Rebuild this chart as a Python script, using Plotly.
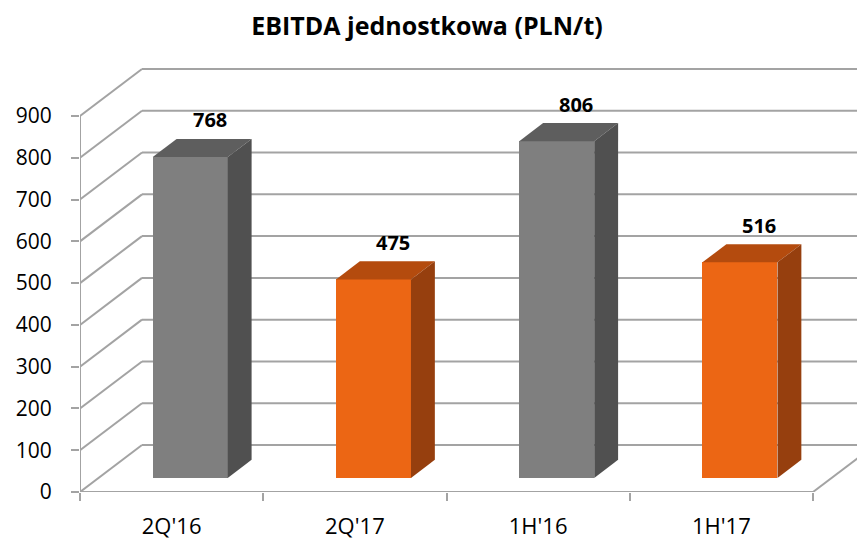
import plotly.graph_objects as go

# ---- data ----
categories = ["2Q'16", "2Q'17", "1H'16", "1H'17"]
values = [768, 475, 806, 516]
series_kind = ["gray", "orange", "gray", "orange"]
y_ticks = [0, 100, 200, 300, 400, 500, 600, 700, 800, 900]
title_text = "EBITDA jednostkowa (PLN/t)"

# ---- style ----
palette = {
    "gray": {"front": "#7F7F7F", "top": "#5E5E5E", "side": "#505050"},
    "orange": {"front": "#EC6614", "top": "#B44B0E", "side": "#963F0E"},
}
GRID = "#A3A3A3"
FONT = "Open Sans"

BODY = 8  # default page margin around the plot div
W, H = 865 - BODY, 540 - BODY
ML, MR, MT, MB = 80 - BODY, 0, 60 - BODY, 48
PX_PER_CAT = 183.25
PX_PER_VAL = 376 / 900.0
DEPTH_PX_X, DEPTH_PX_Y = 62, 47
DX = DEPTH_PX_X / PX_PER_CAT          # full floor depth in category units
DY = DEPTH_PX_Y / PX_PER_VAL          # full floor depth in value units
F0, F1 = 0.30, 0.685                  # bar front / back depth fractions
BAR_W = 75 / PX_PER_CAT

n = len(categories)
x_lo = -0.5
x_hi = x_lo + (W - ML - MR) / PX_PER_CAT
y_hi = (H - MT - MB) / PX_PER_VAL

fig = go.Figure()

# front faces
centers = [i + F0 * DX for i in range(n)]
fig.add_trace(go.Bar(
    x=centers, y=values, base=[F0 * DY] * n, width=BAR_W,
    marker=dict(color=[palette[k]["front"] for k in series_kind], line=dict(width=0)),
    hoverinfo="skip", showlegend=False,
))

# top & side faces
ddx = (F1 - F0) * DX
ddy = (F1 - F0) * DY
for c, v, k in zip(centers, values, series_kind):
    l, r = c - BAR_W / 2, c + BAR_W / 2
    b0 = F0 * DY
    fig.add_trace(go.Scatter(
        x=[l, r, r + ddx, l + ddx, l], y=[b0 + v, b0 + v, b0 + ddy + v, b0 + ddy + v, b0 + v],
        xaxis="x2", mode="lines", fill="toself", fillcolor=palette[k]["top"],
        line=dict(width=0, color=palette[k]["top"]), hoverinfo="skip", showlegend=False))
    fig.add_trace(go.Scatter(
        x=[r, r, r + ddx, r + ddx, r], y=[b0, b0 + v, b0 + ddy + v, b0 + ddy, b0],
        xaxis="x2", mode="lines", fill="toself", fillcolor=palette[k]["side"],
        line=dict(width=0, color=palette[k]["side"]), hoverinfo="skip", showlegend=False))

# gridlines / walls as shapes (below traces)
shapes = []
line_style = dict(color=GRID, width=2)
for v in y_ticks:
    shapes.append(dict(type="line", xref="x", yref="y", x0=x_lo, y0=v, x1=x_lo + DX, y1=v + DY,
                       line=line_style, layer="below"))
    shapes.append(dict(type="line", xref="x", yref="y", x0=x_lo + DX, y0=v + DY, x1=n - 0.5 + DX, y1=v + DY,
                       line=line_style, layer="below"))
shapes.append(dict(type="line", xref="x", yref="y", x0=x_lo, y0=0, x1=x_lo, y1=y_ticks[-1],
                   line=line_style, layer="below"))
shapes.append(dict(type="line", xref="x", yref="y", x0=x_lo, y0=0, x1=n - 0.5, y1=0,
                   line=line_style, layer="below"))
shapes.append(dict(type="line", xref="x", yref="y", x0=n - 0.5, y0=0, x1=n - 0.5 + DX, y1=DY,
                   line=line_style, layer="below"))

# data labels
annotations = []
for c, v in zip(centers, values):
    annotations.append(dict(
        x=c + 0.106, y=F1 * DY + v + 19 / PX_PER_VAL, xref="x", yref="y",
        text=str(v), showarrow=False, xanchor="center", yanchor="middle",
        font=dict(family=FONT, size=20, color="#000000", weight=700)))

fig.update_layout(
    width=W, height=H,
    margin=dict(l=ML, r=MR, t=MT, b=MB, pad=0, autoexpand=False),
    paper_bgcolor="white", plot_bgcolor="white",
    font=dict(family=FONT, color="#000000"),
    title=dict(text=title_text, x=(427 - BODY) / W, xref="container", xanchor="center",
               y=1 - 18 / H, yref="container", yanchor="middle",
               font=dict(family=FONT, size=25, color="#000000", weight=700)),
    xaxis=dict(range=[x_lo, x_hi], tickvals=list(range(n)), ticktext=categories,
               ticks="", showgrid=False, zeroline=False, showline=False,
               tickfont=dict(family=FONT, size=22, color="#000000"),
               ticklabelstandoff=19, fixedrange=True, automargin=False),
    xaxis2=dict(overlaying="x", matches="x", anchor="y", side="bottom",
                tickvals=[i - 0.5 for i in range(n + 1)], showticklabels=False,
                ticks="outside", ticklen=8, tickwidth=2, tickcolor=GRID,
                showgrid=False, zeroline=False, showline=False, automargin=False),
    yaxis=dict(range=[0, y_hi], tickvals=y_ticks, ticktext=[str(t) for t in y_ticks],
               ticks="outside", ticklen=8, tickwidth=2, tickcolor=GRID,
               showgrid=False, zeroline=False, showline=False,
               tickfont=dict(family=FONT, size=21, color="#000000"),
               ticklabelstandoff=15, fixedrange=True, automargin=False),
    shapes=shapes, annotations=annotations, bargap=0,
)

fig.write_html("out.html")
